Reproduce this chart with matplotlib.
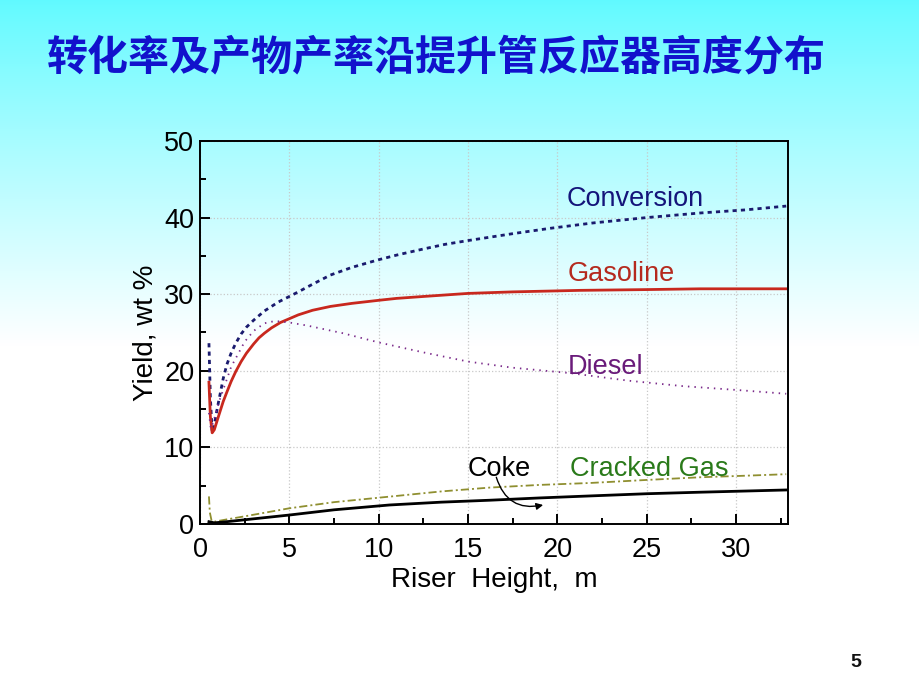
import matplotlib
matplotlib.use("Agg")
import matplotlib.pyplot as plt
import numpy as np
from matplotlib.ticker import MultipleLocator

# values
title = "转化率及产物产率沿提升管反应器高度分布"
page_number = "5"

conv_x = [0.5, 0.58, 0.68, 0.8, 1.0, 1.3, 1.5, 1.74, 2.0, 2.3, 2.6, 3.0, 3.6,
          4.4, 5.0, 5.5, 6.3, 7.3, 8.5, 10, 11, 12.5, 13.7, 15, 17.5, 19.6,
          22, 25, 28, 30.5, 32.8]
conversion = [23.6, 16.5, 12.0, 13.0, 15.5, 19.0, 20.8, 22.3, 23.6, 24.8, 25.7,
              26.6, 27.8, 29.0, 29.7, 30.3, 31.3, 32.5, 33.5, 34.5, 35.1, 35.9,
              36.5, 37.0, 37.9, 38.6, 39.3, 40.0, 40.6, 41.0, 41.5]

gaso_x = [0.5, 0.58, 0.68, 0.8, 1.0, 1.3, 1.5, 1.74, 2.0, 2.3, 2.6, 3.0, 3.3,
          3.6, 4.0, 4.5, 5.0, 5.5, 6.3, 7.3, 8.5, 10, 11, 12.5, 15, 17.5, 21.3,
          25, 28, 32.8]
gasoline = [18.5, 14.0, 11.9, 12.3, 13.8, 16.0, 17.2, 18.6, 19.9, 21.2, 22.3,
            23.5, 24.3, 24.9, 25.6, 26.3, 26.8, 27.3, 27.9, 28.4, 28.8, 29.2,
            29.45, 29.7, 30.1, 30.3, 30.5, 30.6, 30.7, 30.7]

diesel_x = [0.5, 0.6, 0.73, 1.1, 1.74, 2.5, 3.0, 3.6, 4.2, 5.0, 6, 8, 10, 12.5,
            15, 17.5, 20.7, 24, 27, 30, 32.8]
diesel = [14.5, 12.5, 13.2, 16.2, 20.5, 23.8, 25.2, 26.2, 26.5, 26.3, 25.9,
          24.9, 23.7, 22.4, 21.2, 20.4, 19.7, 18.7, 18.0, 17.5, 17.0]

gas_x = [0.5, 0.55, 0.65, 0.8, 1.5, 2.5, 5.0, 7.5, 10.6, 13.5, 16.2, 19, 21.8,
         25, 28, 30.5, 32.8]
cracked_gas = [3.6, 1.5, 0.4, 0.3, 0.6, 1.0, 2.05, 2.85, 3.57, 4.25, 4.75, 5.1,
               5.35, 5.75, 6.1, 6.3, 6.5]

coke_x = [0.5, 0.8, 1.5, 2.5, 5.0, 7.5, 10.6, 13.5, 16.2, 19, 21.8, 25, 28,
          30.5, 32.8]
coke = [0.3, 0.15, 0.3, 0.55, 1.17, 1.85, 2.48, 2.85, 3.1, 3.4, 3.66, 3.95,
        4.15, 4.3, 4.44]

plt.rcParams["font.family"] = ["Liberation Sans", "DejaVu Sans"]

fig = plt.figure(figsize=(9.2, 6.9), dpi=100)

# slide background: cyan at the top fading to white
bg = fig.add_axes([0, 0, 1, 1], zorder=-5)
t = np.linspace(0, 1, 400)
w = np.clip(t / 0.5, 0, 1) ** 0.9
top = np.array([0.38, 0.98, 1.0])
grad = top[None, :] * (1 - w[:, None]) + np.ones(3)[None, :] * w[:, None]
bg.imshow(grad[:, None, :], aspect="auto", extent=[0, 1, 0, 1])
bg.set_axis_off()

fig.text(0.474, 0.917, title, ha="center", va="center", fontsize=29.5,
         fontweight="bold", color="#1212CC",
         family=["Noto Sans CJK SC", "DejaVu Sans"])
fig.text(0.930, 0.040, page_number, ha="center", va="center", fontsize=14,
         fontweight="bold", color="#111111")

ax = fig.add_axes([0.2174, 0.2406, 0.6391, 0.5551])
ax.set_facecolor("none")

ax.plot(conv_x, conversion, color="#1A1A6E", lw=2.0, linestyle=(0, (1.5, 1.5)))
ax.plot(gaso_x, gasoline, color="#C8281E", lw=2.0)
ax.plot(diesel_x, diesel, color="#7A2A8A", lw=1.3, linestyle=(0, (0.8, 2.8)))
ax.plot(gas_x, cracked_gas, color="#8F8F30", lw=1.3,
        linestyle=(0, (4.5, 1.7, 1.1, 1.7)))
ax.plot(coke_x, coke, color="black", lw=2.0)

ax.text(20.5, 41.5, "Conversion", color="#14147A", fontsize=19.5, va="baseline")
ax.text(20.56, 31.7, "Gasoline", color="#B52A1E", fontsize=19.5, va="baseline")
ax.text(20.6, 19.6, "Diesel", color="#6A1B7A", fontsize=19.5, va="baseline")
ax.text(20.7, 6.27, "Cracked Gas", color="#2A7A1A", fontsize=19.5, va="baseline")
ax.text(14.96, 6.27, "Coke", color="black", fontsize=19.5, va="baseline")
ax.annotate("", xy=(19.2, 2.48), xytext=(16.58, 6.1),
            arrowprops=dict(arrowstyle="-|>", color="black", lw=1.0,
                            mutation_scale=10,
                            connectionstyle="arc3,rad=0.45",
                            shrinkA=0, shrinkB=0))

ax.set_xlim(0, 32.9)
ax.set_ylim(0, 50)
ax.xaxis.set_major_locator(MultipleLocator(5))
ax.xaxis.set_minor_locator(MultipleLocator(2.5))
ax.yaxis.set_major_locator(MultipleLocator(10))
ax.yaxis.set_minor_locator(MultipleLocator(5))
ax.tick_params(which="both", direction="in", width=1.4, labelsize=19.5)
ax.tick_params(which="major", length=7)
ax.tick_params(which="minor", length=4)
ax.tick_params(axis="x", pad=9.5)
ax.tick_params(axis="y", pad=4)
ax.grid(True, which="major", linestyle=":", color="#c8c8c8", lw=0.9)
for spine in ax.spines.values():
    spine.set_linewidth(1.4)

ax.set_xlabel("Riser  Height,  m", fontsize=20, labelpad=3)
ax.set_ylabel("Yield, wt %", fontsize=20, labelpad=4)

fig.savefig("out.png", dpi=100)
